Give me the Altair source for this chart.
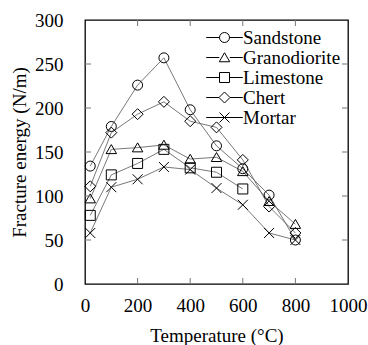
import altair as alt
import pandas as pd

temps = [20, 100, 200, 300, 400, 500, 600, 700, 800]
sandstone = [134, 179, 226, 257, 198, 157, 131, 101, 50]
granodiorite = [97, 153, 155, 158, 142, 144, 128, 94, 68]
limestone = [78, 124, 137, 153, 132, 127, 108]
chert = [111, 172, 193, 207, 185, 178, 141, 88, 58]
mortar = [58, 110, 119, 133, 130, 109, 90, 58, 50]
series = ["Sandstone", "Granodiorite", "Limestone", "Chert", "Mortar"]

x_ticks = [0, 200, 400, 600, 800, 1000]
y_ticks = [0, 50, 100, 150, 200, 250, 300]
x_inner_ticks = [200, 400, 600, 800]
y_inner_ticks = [50, 100, 150, 200, 250]

rows = []
for name, vals in zip(series, [sandstone, granodiorite, limestone, chert, mortar]):
    for t, v in zip(temps, vals):
        rows.append({"Temperature": t, "Energy": v, "Series": name})
df = pd.DataFrame(rows)

W, H = 263, 264
FONT = "Liberation Serif"
xs = alt.Scale(domain=[0, 1000], nice=False)
ys = alt.Scale(domain=[0, 300], nice=False)

circle = "M-1,0A1,1 0 1,1 1,0A1,1 0 1,1 -1,0Z"
tri = "M0,-0.95L1.05,0.85L-1.05,0.85Z"
square = "M-1,-1L1,-1L1,1L-1,1Z"
diamond = "M0,-1.1L1.1,0L0,1.1L-1.1,0Z"
cross = "M-1,-1L1,1M-1,1L1,-1"
marker_paths = [circle, tri, square, diamond, cross]

L = 3.66
legend_paths = [
    f"M{-L},0L-1,0M1,0L{L},0" + circle,
    f"M{-L},0L-1.05,0M1.05,0L{L},0" + tri,
    f"M{-L},0L-1,0M1,0L{L},0" + square,
    f"M{-L},0L-1.1,0M1.1,0L{L},0" + diamond,
    f"M{-L},0L{L},0" + cross,
]

x_axis = alt.Axis(values=x_ticks, ticks=False, domain=False, grid=False, format="d",
                  labelOverlap=False, labelFlush=False,
                  labelFontSize=19, labelPadding=12, labelFont=FONT, labelColor="black",
                  title="Temperature (°C)", titleFont=FONT, titleFontSize=19,
                  titleFontWeight="normal", titleColor="black",
                  titleX=W / 2, titleY=51, titleBaseline="middle")
y_axis = alt.Axis(values=y_ticks, ticks=False, domain=False, grid=False, format="d",
                  labelOverlap=False, labelFlush=False,
                  labelFontSize=19, labelPadding=22, labelFont=FONT, labelColor="black",
                  title="Fracture energy (N/m)", titleFont=FONT, titleFontSize=19,
                  titleFontWeight="normal", titleColor="black",
                  titleX=-66, titleY=H / 2, titleBaseline="middle")

base = alt.Chart(df)
lines = base.mark_line(color="#555555", strokeWidth=0.8).encode(
    x=alt.X("Temperature:Q", scale=xs, axis=x_axis),
    y=alt.Y("Energy:Q", scale=ys, axis=y_axis),
    detail="Series:N",
)
points = base.mark_point(filled=False, color="black", strokeWidth=1, size=100, opacity=1).encode(
    x=alt.X("Temperature:Q", scale=xs),
    y=alt.Y("Energy:Q", scale=ys),
    shape=alt.Shape("Series:N", scale=alt.Scale(domain=series, range=marker_paths), legend=None),
)
legend_layer = base.mark_point(filled=False, color="black", strokeWidth=1, size=100, opacity=0).encode(
    x=alt.X("Temperature:Q", scale=xs),
    y=alt.Y("Energy:Q", scale=ys),
    shape=alt.Shape("Series:N", scale=alt.Scale(domain=series, range=legend_paths),
                    legend=alt.Legend(title=None, orient="none", legendX=130, legendY=8,
                                      labelFont=FONT, labelFontSize=19, labelColor="black",
                                      labelOffset=9, rowPadding=-0.5, padding=0,
                                      symbolOpacity=1, symbolStrokeColor="black",
                                      symbolFillColor="transparent", symbolSize=100,
                                      symbolStrokeWidth=1)),
)

ydf = pd.DataFrame({"Energy": y_inner_ticks})
xdf = pd.DataFrame({"Temperature": x_inner_ticks})
tick_color = "#777777"
yl = alt.Chart(ydf).mark_rule(color=tick_color, strokeWidth=1).encode(
    y=alt.Y("Energy:Q", scale=ys), x=alt.value(0), x2=alt.value(6))
yr = alt.Chart(ydf).mark_rule(color=tick_color, strokeWidth=1).encode(
    y=alt.Y("Energy:Q", scale=ys), x=alt.value(W - 6), x2=alt.value(W))
xb = alt.Chart(xdf).mark_rule(color=tick_color, strokeWidth=1).encode(
    x=alt.X("Temperature:Q", scale=xs), y=alt.value(H - 6), y2=alt.value(H))
xt = alt.Chart(xdf).mark_rule(color=tick_color, strokeWidth=1).encode(
    x=alt.X("Temperature:Q", scale=xs), y=alt.value(0), y2=alt.value(6))

chart = alt.layer(lines, points, legend_layer, yl, yr, xb, xt).resolve_scale(
    shape="independent"
).properties(
    width=W, height=H, autosize="none",
    padding={"left": 85, "top": 20, "right": 20, "bottom": 61},
    background="white",
).configure(font=FONT).configure_view(stroke="black", strokeWidth=1.3)

chart.save("out.html", embed_options={"renderer": "svg", "actions": False})
